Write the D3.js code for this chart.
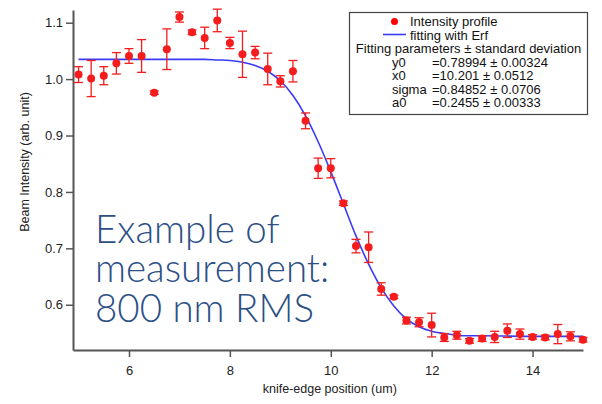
<!DOCTYPE html>
<html>
<head>
<meta charset="utf-8">
<script src="https://cdn.jsdelivr.net/npm/d3@7"></script>
<style>
  body { margin: 0; background: #fff; }
  text { font-family: "Liberation Sans", Arial, sans-serif; }
</style>
</head>
<body>
<script>
// measured points (knife-edge position, intensity, error)
const positions = [5, 5.25, 5.5, 5.75, 6, 6.25, 6.5, 6.75, 7, 7.25, 7.5, 7.75, 8, 8.25, 8.5, 8.75, 9, 9.25,
  9.5, 9.75, 10, 10.25, 10.5, 10.75, 11, 11.25, 11.5, 11.75, 12, 12.25, 12.5, 12.75, 13, 13.25, 13.5, 13.75,
  14, 14.25, 14.5, 14.75, 15];
const intensity = [1.008, 1.001, 1.006, 1.028, 1.041, 1.041, 0.976, 1.053, 1.110, 1.083, 1.073, 1.104, 1.064, 1.044, 1.047, 1.018, 0.996, 1.014,
  0.926, 0.842, 0.842, 0.780, 0.704, 0.702, 0.628, 0.614, 0.572, 0.569, 0.564, 0.542, 0.546, 0.536, 0.540, 0.543, 0.554, 0.548,
  0.543, 0.542, 0.548, 0.544, 0.538];
const errors = [0.014, 0.032, 0.016, 0.019, 0.013, 0.029, 0.003, 0.036, 0.009, 0.004, 0.019, 0.020, 0.010, 0.041, 0.011, 0.028, 0.010, 0.019,
  0.014, 0.018, 0.017, 0.004, 0.012, 0.027, 0.011, 0.003, 0.006, 0.008, 0.021, 0.007, 0.007, 0.004, 0.005, 0.010, 0.012, 0.009,
  0.004, 0.004, 0.017, 0.008, 0.004];

// fitted curve
const fitX = [5, 6, 7, 7.5, 7.75, 8, 8.25, 8.5, 8.75, 9, 9.25, 9.5, 9.75, 10, 10.25, 10.5, 10.75, 11, 11.25, 11.5, 11.75,
  12, 12.25, 12.5, 12.75, 13, 14, 15];
const fitY = [1.035, 1.035, 1.035, 1.035, 1.034, 1.033, 1.030, 1.024, 1.014, 0.997, 0.971, 0.935, 0.889, 0.836, 0.779, 0.722,
  0.672, 0.630, 0.598, 0.575, 0.561, 0.553, 0.549, 0.546, 0.545, 0.545, 0.544, 0.544];

const yTicks = [0.6, 0.7, 0.8, 0.9, 1.0, 1.1];
const xTicks = [6, 8, 10, 12, 14];

const legendLines = [
  ["Intensity profile"],
  ["fitting with Erf"],
  ["Fitting parameters \u00b1 standard deviation"],
  ["y0", "=0.78994 \u00b1 0.00324"],
  ["x0", "=10.201 \u00b1 0.0512"],
  ["sigma", "=0.84852 \u00b1 0.0706"],
  ["a0", "=0.2455 \u00b1 0.00333"]
];
const noteLines = ["Example of", "measurement:", "800 nm RMS"];

const W = 602, H = 404;
const margin = { top: 10, right: 19, bottom: 54, left: 73 };
const width = W - margin.left - margin.right,
      height = H - margin.top - margin.bottom;

const svg = d3.select("body").append("svg")
    .attr("width", W)
    .attr("height", H);
const g = svg.append("g")
    .attr("transform", `translate(${margin.left},${margin.top})`);

const x = d3.scaleLinear().domain([4.89, 15]).range([0, width]);
const y = d3.scaleLinear().domain([0.5198, 1.1225]).range([height, 0]);

const axisColor = "#555";

const xAxis = g.append("g")
    .attr("transform", `translate(0,${height})`)
    .call(d3.axisBottom(x).tickValues(xTicks).tickFormat(d3.format("d")).tickSize(7).tickSizeOuter(0));
const yAxis = g.append("g")
    .call(d3.axisLeft(y).tickValues(yTicks).tickFormat(d3.format(".1f")).tickSize(7).tickSizeOuter(0));
[xAxis, yAxis].forEach(a => {
  a.select(".domain").attr("stroke", axisColor).attr("stroke-width", 2);
  a.selectAll(".tick line").attr("stroke", axisColor).attr("stroke-width", 1.5);
  a.selectAll(".tick text").attr("fill", "#222")
    .style("font-family", "Liberation Sans, Arial, sans-serif").style("font-size", "13px");
});
xAxis.selectAll(".tick text").attr("dy", "1.15em");
yAxis.selectAll(".tick text").attr("x", -10);

// axis titles
svg.append("text")
    .attr("x", margin.left + x(10) - 1).attr("y", 393)
    .attr("text-anchor", "middle").attr("font-size", 12.5).attr("fill", "#222")
    .text("knife-edge position (um)");
svg.append("text")
    .attr("transform", `translate(29,${162}) rotate(-90)`)
    .attr("text-anchor", "middle").attr("font-size", 12.5).attr("fill", "#222")
    .text("Beam Intensity (arb. unit)");

// fit
const line = d3.line().x((d, i) => x(fitX[i])).y(d => y(d)).curve(d3.curveMonotoneX);
g.append("path")
    .datum(fitY)
    .attr("fill", "none")
    .attr("stroke", "#3b3bf5")
    .attr("stroke-width", 1.6)
    .attr("d", line);

// error bars + points
const red = "#f41c1c";
const pts = g.append("g").selectAll("g").data(positions).join("g");
pts.append("line")
    .attr("x1", d => x(d)).attr("x2", d => x(d))
    .attr("y1", (d, i) => y(intensity[i] - errors[i]))
    .attr("y2", (d, i) => y(intensity[i] + errors[i]))
    .attr("stroke", red).attr("stroke-width", 1.3);
[-1, 1].forEach(s => {
  pts.append("line")
      .attr("x1", d => x(d) - 4.5).attr("x2", d => x(d) + 4.5)
      .attr("y1", (d, i) => y(intensity[i] + s * errors[i]))
      .attr("y2", (d, i) => y(intensity[i] + s * errors[i]))
      .attr("stroke", red).attr("stroke-width", 1.3);
});
pts.append("circle")
    .attr("cx", d => x(d))
    .attr("cy", (d, i) => y(intensity[i]))
    .attr("r", 4)
    .attr("fill", red);

// legend box
const lg = svg.append("g");
lg.append("rect")
    .attr("x", 349.5).attr("y", 12.5).attr("width", 238).attr("height", 102)
    .attr("fill", "#fff").attr("stroke", "#444").attr("stroke-width", 1.2);
lg.append("circle").attr("cx", 394.5).attr("cy", 21.5).attr("r", 3.5).attr("fill", "#f00");
lg.append("line").attr("x1", 383).attr("x2", 406).attr("y1", 34.5).attr("y2", 34.5)
    .attr("stroke", "#3b3bf5").attr("stroke-width", 1.6);
legendLines.forEach((l, i) => {
  const yy = 26 + i * 13.5;
  if (i < 2) {
    lg.append("text").attr("x", 410).attr("y", yy).attr("font-size", 13).attr("fill", "#111").text(l[0]);
  } else if (i === 2) {
    lg.append("text").attr("x", 468.5).attr("y", yy).attr("text-anchor", "middle")
      .attr("font-size", 13).attr("fill", "#111").text(l[0]);
  } else {
    lg.append("text").attr("x", 392).attr("y", yy).attr("font-size", 13).attr("fill", "#111").text(l[0]);
    lg.append("text").attr("x", 432).attr("y", yy).attr("font-size", 13).attr("fill", "#111").text(l[1]);
  }
});

// overlay note, one text block with a line per tspan
svg.append("text")
    .attr("x", 95).attr("y", 243)
    .style("font-family", "Lato, 'Open Sans', sans-serif")
    .style("font-weight", 300)
    .attr("font-size", 38.5)
    .attr("fill", "#2c4f86")
  .selectAll("tspan").data(noteLines).join("tspan")
    .attr("x", 95)
    .attr("dy", (d, i) => i === 0 ? 0 : 39.3)
    .text(d => d);
</script>
</body>
</html>
